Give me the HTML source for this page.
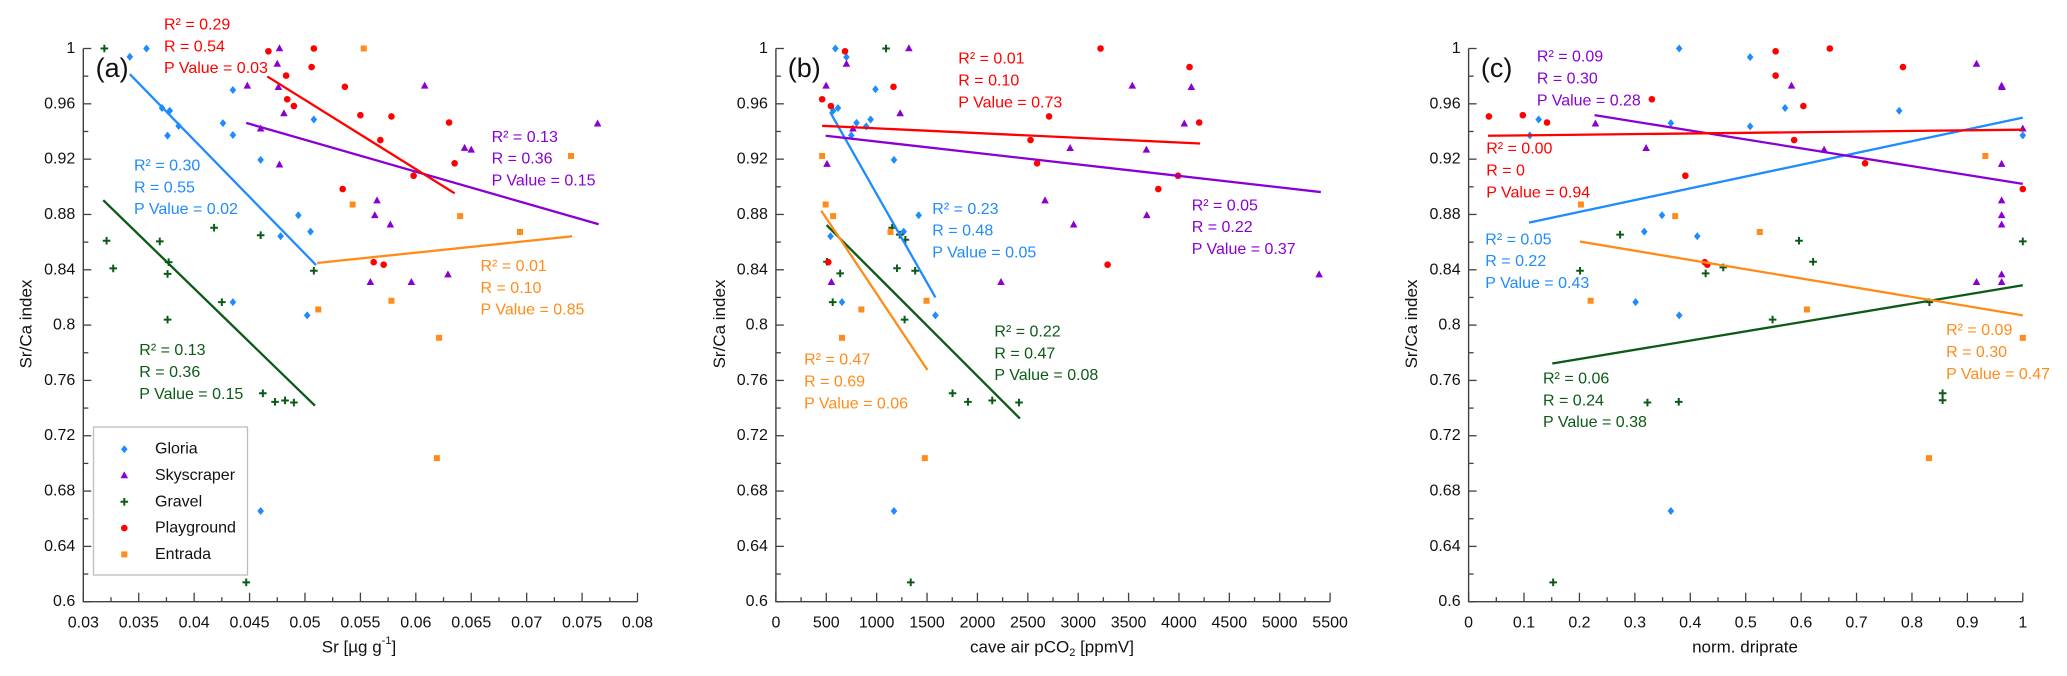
<!DOCTYPE html>
<html><head><meta charset="utf-8">
<style>
html,body{margin:0;padding:0;background:#fff;}
svg{display:block;font-family:"Liberation Sans",sans-serif;}
</style></head>
<body>
<svg id="chart" width="2067" height="676" viewBox="0 0 2067 676" xmlns="http://www.w3.org/2000/svg"></svg>
<script>
// ---------- Panel (a): Sr [µg/g] ----------
const aGloria = [[0.0342,0.994],[0.0357,1.0],[0.0371,0.957],[0.0378,0.955],[0.0376,0.937],[0.0386,0.944],[0.0435,0.970],[0.0426,0.946],[0.0435,0.9375],[0.0460,0.9195],[0.0508,0.9487],[0.0494,0.8794],[0.0505,0.8676],[0.0478,0.8642],[0.0435,0.8166],[0.0502,0.807],[0.0460,0.6656]];
const aSky = [[0.0477,1.0],[0.0475,0.9888],[0.0448,0.973],[0.0476,0.972],[0.0481,0.953],[0.0460,0.942],[0.0608,0.973],[0.0477,0.916],[0.0644,0.928],[0.0650,0.9267],[0.0764,0.9456],[0.0565,0.890],[0.0563,0.8794],[0.0577,0.8726],[0.0629,0.8365],[0.0559,0.831],[0.0596,0.831]];
const aGravel = [[0.0319,1.0],[0.0321,0.861],[0.0327,0.841],[0.0369,0.8605],[0.0377,0.8455],[0.0376,0.837],[0.0376,0.804],[0.0418,0.8704],[0.0425,0.8166],[0.0460,0.865],[0.0508,0.8393],[0.0462,0.7507],[0.0473,0.7445],[0.0482,0.7455],[0.0490,0.744],[0.0447,0.614]];
const aPlay = [[0.0467,0.998],[0.0508,1.0],[0.0506,0.9866],[0.0483,0.9804],[0.0484,0.9633],[0.0490,0.9584],[0.0536,0.9723],[0.0550,0.9518],[0.0578,0.9509],[0.0568,0.9338],[0.0630,0.9465],[0.0635,0.917],[0.0598,0.908],[0.0534,0.8984],[0.0562,0.8455],[0.0571,0.8437]];
const aEntrada = [[0.0553,1.0],[0.0740,0.9223],[0.0543,0.8872],[0.0640,0.8788],[0.0694,0.8673],[0.0512,0.8113],[0.0578,0.8176],[0.0621,0.7908],[0.0619,0.7038]];
const aFitGloria = [[0.0342,0.9814],[0.0510,0.8434]];
const aFitPlay = [[0.0466,0.9798],[0.0635,0.8953]];
const aFitSky = [[0.0447,0.9462],[0.0765,0.8729]];
const aFitGravel = [[0.0318,0.8903],[0.0509,0.7417]];
const aFitEntrada = [[0.0511,0.8449],[0.0741,0.8642]];
const aXTicks = ["0.03","0.035","0.04","0.045","0.05","0.055","0.06","0.065","0.07","0.075","0.08"];

// ---------- Panel (b): cave air pCO2 ----------
const bGloria = [[590,1.0],[700,0.9938],[616,0.957],[568,0.955],[748,0.9372],[800,0.9462],[896,0.9437],[940,0.9487],[988,0.9705],[1172,0.9195],[1417,0.8794],[1268,0.8676],[542,0.8642],[656,0.8166],[1583,0.807],[1172,0.6656]];
const bSky = [[1320,1.0],[700,0.9888],[498,0.973],[1233,0.953],[765,0.942],[507,0.9164],[3537,0.973],[4123,0.972],[4053,0.9456],[3677,0.9267],[2920,0.9279],[2671,0.89],[3681,0.8794],[2955,0.8726],[2234,0.831],[551,0.831],[5391,0.8365]];
const bGravel = [[1093,1.0],[1154,0.8704],[1229,0.8654],[1285,0.8617],[507,0.8458],[638,0.8374],[564,0.8166],[1202,0.8411],[1382,0.8393],[1277,0.804],[1753,0.7507],[1906,0.7445],[2147,0.7455],[2413,0.744],[1338,0.614]];
const bPlay = [[686,0.998],[459,0.9633],[546,0.9584],[1167,0.9723],[3222,1.0],[4105,0.9866],[4201,0.9465],[2711,0.9509],[2527,0.9338],[2592,0.917],[3991,0.908],[3795,0.8984],[3292,0.8437],[520,0.8455]];
const bEntrada = [[459,0.9223],[494,0.8872],[568,0.8788],[1137,0.8673],[1495,0.8176],[848,0.8113],[656,0.7908],[1478,0.7038]];
const bFitGloria = [[538,0.954],[1583,0.820]];
const bFitPlay = [[459,0.9441],[4210,0.9313]];
const bFitSky = [[494,0.9369],[5408,0.8962]];
const bFitGravel = [[503,0.8723],[2422,0.7324]];
const bFitEntrada = [[450,0.8828],[1504,0.7675]];
const bXTicks = ["0","500","1000","1500","2000","2500","3000","3500","4000","4500","5000","5500"];

// ---------- Panel (c): norm. driprate ----------
const cGloria = [[0.380,1.0],[0.508,0.9938],[0.571,0.957],[0.1264,0.9487],[0.777,0.955],[0.365,0.946],[0.508,0.9437],[0.1105,0.9372],[1.0,0.9372],[0.349,0.8794],[0.317,0.8676],[0.4126,0.8642],[0.3013,0.8166],[0.380,0.807],[0.365,0.6656]];
const cSky = [[0.9165,0.9888],[0.5827,0.973],[0.9618,0.973],[0.9626,0.972],[0.2289,0.9456],[1.0,0.942],[0.3203,0.9279],[0.6415,0.9267],[0.9618,0.9164],[0.9618,0.89],[0.9618,0.8794],[0.9618,0.8726],[0.9618,0.8365],[0.9165,0.831],[0.9618,0.831]];
const cGravel = [[0.1526,0.614],[0.2011,0.8393],[0.2734,0.8654],[0.4277,0.8374],[0.4595,0.8417],[0.5485,0.804],[0.5962,0.861],[0.6216,0.8458],[0.8315,0.8166],[1.0,0.8605],[0.3227,0.744],[0.3792,0.7445],[0.8553,0.7507],[0.8553,0.7457]];
const cPlay = [[0.0366,0.9509],[0.0978,0.9518],[0.1415,0.9465],[0.3307,0.9633],[0.554,0.998],[0.6518,1.0],[0.554,0.9804],[0.7838,0.9866],[0.6041,0.9584],[0.5874,0.9338],[0.7154,0.917],[1.0,0.8984],[0.3911,0.908],[0.4261,0.8455],[0.4308,0.8437]];
const cEntrada = [[0.2027,0.8872],[0.2202,0.8176],[0.3728,0.8788],[0.5254,0.8673],[0.6105,0.8113],[0.9324,0.9223],[1.0,0.7908],[0.8307,0.7038]];
const cFitGloria = [[0.109,0.8741],[1.0,0.95]];
const cFitPlay = [[0.035,0.9369],[1.0,0.9413]];
const cFitSky = [[0.2273,0.9518],[1.0,0.9021]];
const cFitGravel = [[0.151,0.7722],[1.0,0.8288]];
const cFitEntrada = [[0.2011,0.8604],[1.0,0.807]];
const cXTicks = ["0","0.1","0.2","0.3","0.4","0.5","0.6","0.7","0.8","0.9","1"];

const yTicks = ["0.6","0.64","0.68","0.72","0.76","0.8","0.84","0.88","0.92","0.96","1"];

const COL = {Gloria:"#1e8bff", Skyscraper:"#8a00d4", Gravel:"#0b5a17", Playground:"#ff0000", Entrada:"#ff8c1a"};
const NS = "http://www.w3.org/2000/svg";
const svg = document.getElementById("chart");
function el(tag, attrs, parent){
  const e = document.createElementNS(NS, tag);
  for (const k in attrs) e.setAttribute(k, attrs[k]);
  (parent||svg).appendChild(e);
  return e;
}
const Y0 = 601.7, Y1 = 48.5; // pixel of y=0.6 and y=1
function yScale(v){ return Y0 + (v-0.6)/0.4*(Y1-Y0); }

function marker(kind, cx, cy, parent){
  let m;
  const c = COL[kind];
  if (kind==="Gloria") m = el("polygon",{points:`${cx},${cy-4} ${cx+3.3},${cy} ${cx},${cy+4} ${cx-3.3},${cy}`, fill:c}, parent);
  else if (kind==="Skyscraper") m = el("polygon",{points:`${cx},${cy-4.2} ${cx+3.8},${cy+2.8} ${cx-3.8},${cy+2.8}`, fill:c}, parent);
  else if (kind==="Gravel") m = el("path",{d:`M${cx-3.8},${cy}H${cx+3.8}M${cx},${cy-3.8}V${cy+3.8}`, stroke:c, "stroke-width":2, fill:"none"}, parent);
  else if (kind==="Playground") m = el("circle",{cx:cx, cy:cy, r:3.3, fill:c}, parent);
  else m = el("rect",{x:cx-3, y:cy-3, width:6, height:6, fill:c}, parent);
  return m;
}

function panel(cfg){
  const g = el("g",{});
  
  
  const xs = v => cfg.x0 + (v-cfg.xmin)/(cfg.xmax-cfg.xmin)*(cfg.x1-cfg.x0);
  // axes
  const ax = el("path",{d:`M${cfg.x0},${Y1}V${Y0}H${cfg.x1}`, stroke:"#404040","stroke-width":1.4, fill:"none"}, g);
  
  
  // y ticks
  for (let i=0;i<yTicks.length;i++){
    const v = parseFloat(yTicks[i]); const y = yScale(v);
    el("line",{x1:cfg.x0,x2:cfg.x0+8,y1:y,y2:y,stroke:"#404040","stroke-width":1.3}, g);
    const t = el("text",{x:cfg.x0-8, y:y, "text-anchor":"end","dominant-baseline":"central","font-size":16, fill:"#111"}, g);
    t.textContent = yTicks[i];
    
    
    if (i<yTicks.length-1){
      const ym = yScale(v+0.02);
      el("line",{x1:cfg.x0,x2:cfg.x0+5,y1:ym,y2:ym,stroke:"#404040","stroke-width":1.3}, g);
    }
  }
  // x ticks
  const labs = cfg.ticks;
  for (let i=0;i<labs.length;i++){
    const v = parseFloat(labs[i]); const x = xs(v);
    el("line",{x1:x,x2:x,y1:Y0,y2:Y0-9,stroke:"#404040","stroke-width":1.3}, g);
    const t = el("text",{x:x, y:623, "text-anchor":"middle","dominant-baseline":"central","font-size":16, fill:"#111"}, g);
    t.textContent = labs[i];
    
    
    if (i<labs.length-1){
      const xm = xs((v+parseFloat(labs[i+1]))/2);
      el("line",{x1:xm,x2:xm,y1:Y0,y2:Y0-4.5,stroke:"#404040","stroke-width":1.3}, g);
    }
  }
  // axis titles
  const yt = el("text",{x:0,y:0,transform:`translate(${cfg.ytx},324) rotate(-90)`,"text-anchor":"middle","dominant-baseline":"central","font-size":17, fill:"#111"}, g);
  yt.textContent = "Sr/Ca index";
  
  
  const xt = el("text",{x:cfg.xtx,y:647,"text-anchor":"middle","dominant-baseline":"central","font-size":17, fill:"#111"}, g);
  xt.innerHTML = cfg.xtitle;
  
  
  const pl = el("text",{x:cfg.lx,y:68,"dominant-baseline":"central","font-size":27, fill:"#111"}, g);
  pl.textContent = cfg.label;
  
  
  // series
  for (const s of cfg.series){
    const sg = el("g",{}, g);
    
    
    for (const p of s.pts){
      const m = marker(s.kind, xs(p[0]), yScale(p[1]), sg);
      
      
    }
  }
  for (const s of cfg.series){
    const f = s.fit;
    const ln = el("line",{x1:xs(f[0][0]),y1:yScale(f[0][1]),x2:xs(f[1][0]),y2:yScale(f[1][1]),stroke:COL[s.kind],"stroke-width":2.3}, g);
    
    
    const ag = el("g",{}, g);
    
    
    for (let k=0;k<3;k++){
      const t = el("text",{x:s.ann[0], y:s.ann[1+k], "dominant-baseline":"central","font-size":16, fill:COL[s.kind]}, ag);
      t.innerHTML = s.txt[k];
    }
  }
}

function stats(r2,r,p){ return ["R\u00B2 = "+r2, "R = "+r, "P Value = "+p]; }

panel({name:"panel-a-sr", label:"(a)", lx:95.6, x0:83.3, x1:637.5, xmin:0.03, xmax:0.08, ticks:aXTicks, ytx:26, xtx:359, xtitle:'Sr [µg g<tspan baseline-shift="super" font-size="11">-1</tspan>]',
  series:[
    {kind:"Gloria", pts:aGloria, fit:aFitGloria, ann:[134.0,165.8,187.8,209.7], txt:stats("0.30","0.55","0.02")},
    {kind:"Skyscraper", pts:aSky, fit:aFitSky, ann:[491.6,137.5,159,180.9], txt:stats("0.13","0.36","0.15")},
    {kind:"Gravel", pts:aGravel, fit:aFitGravel, ann:[139.3,350.7,372.6,394.5], txt:stats("0.13","0.36","0.15")},
    {kind:"Playground", pts:aPlay, fit:aFitPlay, ann:[164.0,24.9,46.8,68.7], txt:stats("0.29","0.54","0.03")},
    {kind:"Entrada", pts:aEntrada, fit:aFitEntrada, ann:[480.5,266.4,288.3,310.2], txt:stats("0.01","0.10","0.85")}
  ]});

panel({name:"panel-b-pco2", label:"(b)", lx:787.8, x0:775.9, x1:1330.1, xmin:0, xmax:5500, ticks:bXTicks, ytx:719.5, xtx:1052, xtitle:'cave air pCO<tspan baseline-shift="sub" font-size="11">2</tspan> [ppmV]',
  series:[
    {kind:"Gloria", pts:bGloria, fit:bFitGloria, ann:[932.3,209.3,231.2,253.1], txt:stats("0.23","0.48","0.05")},
    {kind:"Skyscraper", pts:bSky, fit:bFitSky, ann:[1191.7,205.8,227.7,249.6], txt:stats("0.05","0.22","0.37")},
    {kind:"Gravel", pts:bGravel, fit:bFitGravel, ann:[994.4,332.2,354.1,375.6], txt:stats("0.22","0.47","0.08")},
    {kind:"Playground", pts:bPlay, fit:bFitPlay, ann:[958.3,59.2,81.2,103.1], txt:stats("0.01","0.10","0.73")},
    {kind:"Entrada", pts:bEntrada, fit:bFitEntrada, ann:[804.1,360.1,382,403.9], txt:stats("0.47","0.69","0.06")}
  ]});

panel({name:"panel-c-driprate", label:"(c)", lx:1480.9, x0:1468.6, x1:2022.8, xmin:0, xmax:1, ticks:cXTicks, ytx:1411.3, xtx:1745, xtitle:'norm. driprate',
  series:[
    {kind:"Gloria", pts:cGloria, fit:cFitGloria, ann:[1485.3,239.8,261.7,283.6], txt:stats("0.05","0.22","0.43")},
    {kind:"Skyscraper", pts:cSky, fit:cFitSky, ann:[1536.9,57.1,79,100.9], txt:stats("0.09","0.30","0.28")},
    {kind:"Gravel", pts:cGravel, fit:cFitGravel, ann:[1543.0,379.0,400.9,422.4], txt:stats("0.06","0.24","0.38")},
    {kind:"Playground", pts:cPlay, fit:cFitPlay, ann:[1486.2,149.1,171,192.9], txt:stats("0.00","0","0.94")},
    {kind:"Entrada", pts:cEntrada, fit:cFitEntrada, ann:[1946.1,330.5,352.4,374.3], txt:stats("0.09","0.30","0.47")}
  ]});

// legend (panel a)
const legend = el("g",{});


el("rect",{x:93.5,y:427,width:154,height:148,fill:"#fff",stroke:"#bdbdbd","stroke-width":1.3}, legend);
const legNames = ["Gloria","Skyscraper","Gravel","Playground","Entrada"];
for (let i=0;i<legNames.length;i++){
  const y = 449.2 + i*26.3;
  const ent = el("g",{}, legend);
  
  
  marker(legNames[i], 124.3, y, ent);
  const t = el("text",{x:155,y:y,"dominant-baseline":"central","font-size":16,fill:"#111"}, ent);
  t.textContent = legNames[i];
}
</script>
</body></html>
